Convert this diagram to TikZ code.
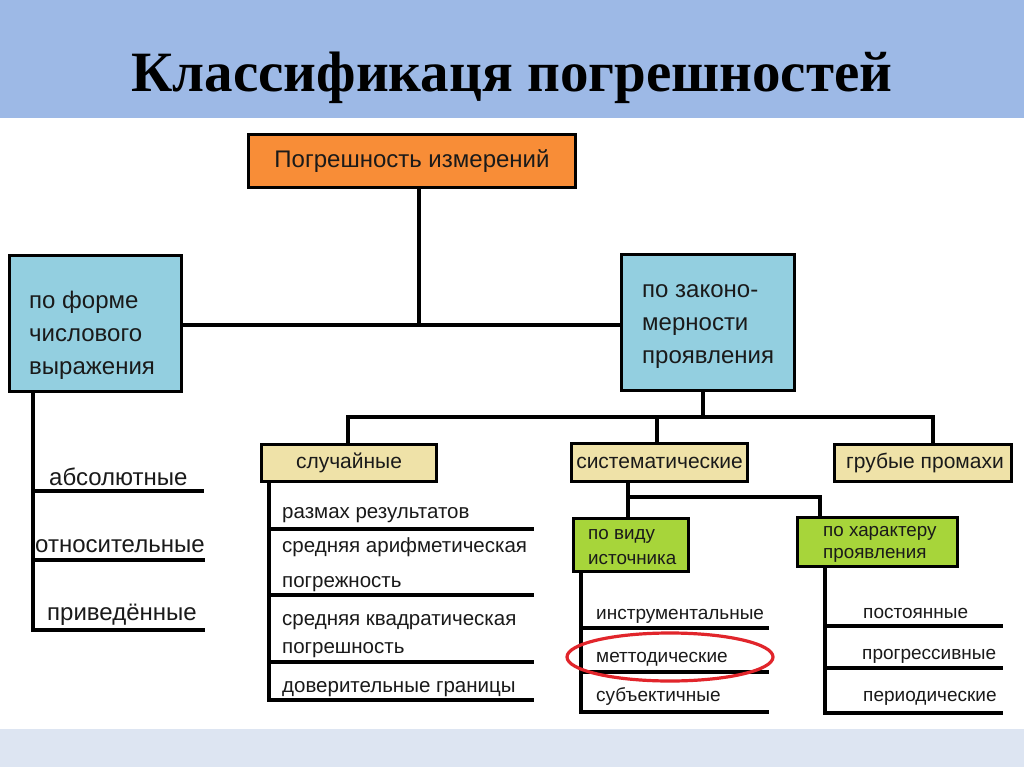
\documentclass[tikz,border=0pt]{standalone}
\usepackage{fontspec}
\setmainfont{Liberation Sans}
\newfontfamily\titlefont{Liberation Serif}
\usetikzlibrary{calc}
\definecolor{headblue}{HTML}{9DB9E6}
\definecolor{footblue}{HTML}{DDE5F2}
\definecolor{orangebox}{HTML}{F88D37}
\definecolor{bluebox}{HTML}{93CFE0}
\definecolor{tanbox}{HTML}{EFE2A8}
\definecolor{greenbox}{HTML}{A7D53A}
\definecolor{ink}{HTML}{1A1A1A}
\definecolor{ringred}{HTML}{E1252B}
\newcommand\fsTitle{\titlefont\bfseries\fontsize{57}{60}\selectfont}
\newcommand\fsTop{\fontsize{24}{28}\selectfont}
\newcommand\fsBig{\fontsize{24}{33}\selectfont}
\newcommand\fsTan{\fontsize{21}{25}\selectfont}
\newcommand\fsList{\fontsize{20.5}{25}\selectfont}
\newcommand\fsGreen{\fontsize{18.8}{25}\selectfont}
\newcommand\fsSmall{\fontsize{19}{23}\selectfont}
\begin{document}
\begin{tikzpicture}[x=1pt,y=-1pt,
  conn/.style={line width=3.2pt, draw=black},
  boxbase/.style={draw=black, line width=3.8pt, inner sep=0pt, rectangle, text=ink},
  lab/.style={inner sep=0pt, text=ink, anchor=base west},
  ringstyle/.style={draw=ringred, line width=3.2pt}]
\useasboundingbox (0,0) rectangle (1024,767);
% bands
\fill[white] (0,0) rectangle (1024,767);
\fill[headblue] (0,0) rectangle (1024,118);
\fill[footblue] (0,729) rectangle (1024,767);
% title
\node[anchor=base, inner sep=0pt, text=black] (title) at (512,92) {\fsTitle Классификаця погрешностей};
% top box
\node[boxbase, fill=orangebox, minimum width=327, minimum height=53] (top) at (412,161) {\fsTop Погрешность измерений};
% level 1
\node[boxbase, fill=bluebox, minimum width=172, minimum height=136] (lbox) at (95.5,323.5) {};
\node[inner sep=0pt, align=left, anchor=west, text=ink, font=\fsBig] (ltext) at (29,335) {по форме\\числового\\выражения};
\node[boxbase, fill=bluebox, minimum width=173, minimum height=136] (rbox) at (708,322.5) {};
\node[inner sep=0pt, align=left, anchor=west, text=ink, font=\fsBig] (rtext) at (642,327) {по законо-\\мерности\\проявления};
\coordinate (j1) at (419,325);
\draw[conn] (top.south -| j1) -- (j1);
\draw[conn] (lbox.east |- j1) -- (rbox.west |- j1);
% level 2
\node[boxbase, fill=tanbox, minimum width=175, minimum height=37] (sl) at (349,463) {\fsTan случайные};
\node[boxbase, fill=tanbox, minimum width=176, minimum height=38] (sys) at (659.5,462.5) {\fsTan систематические};
\node[boxbase, fill=tanbox, minimum width=177, minimum height=37] (gr) at (923,463) {\fsTan\hspace{4pt}грубые промахи};
\coordinate (b0) at (703,417);
\coordinate (bl) at (348,417);
\coordinate (bm) at (657,417);
\coordinate (br) at (933,417);
\draw[conn] (rbox.south -| b0) -- (b0);
\draw[conn] (bl |- sl.north) -- (bl) -- (br) -- (br |- gr.north);
\draw[conn] (bm) -- (bm |- sys.north);
% level 3 green
\node[boxbase, fill=greenbox, minimum width=115, minimum height=53] (g1) at (631,545) {};
\node[inner sep=0pt, align=left, anchor=west, text=ink, font=\fsGreen] (g1t) at (588,547) {по виду\\источника};
\node[boxbase, fill=greenbox, minimum width=160, minimum height=49] (g2) at (877.5,542) {};
\node[inner sep=0pt, align=left, anchor=west, text=ink, font=\fontsize{18.8}{22}\selectfont] (g2t) at (823,544) {по характеру\\проявления};
\coordinate (s1) at (628,497);
\coordinate (s2) at (820,497);
\draw[conn] (sys.south -| s1) -- (g1.north -| s1);
\draw[conn] (s1) -- (s2) -- (s2 |- g2.north);
% left list
\coordinate (lv) at (33,630);
\draw[conn] (lbox.south -| lv) -- (lv) -- (205,630);
\draw[conn] (33,491) -- (204,491);
\draw[conn] (33,560) -- (205,560);
\node[lab, font=\fsBig] (la) at (49,485) {абсолютные};
\node[lab, font=\fsBig] (lb) at (35,552) {относительные};
\node[lab, font=\fsBig] (lc) at (47,620) {приведённые};
% random list
\coordinate (sv) at (269,700);
\draw[conn] (sl.south -| sv) -- (sv) -- (534,700);
\draw[conn] (269,529) -- (534,529);
\draw[conn] (269,595) -- (534,595);
\draw[conn] (269,662) -- (534,662);
\node[lab, font=\fsList] (r1) at (282,518) {размах результатов};
\node[lab, font=\fsList] (r2) at (282,552) {средняя арифметическая};
\node[lab, font=\fsList] (r3) at (282,587) {погрежность};
\node[lab, font=\fsList] (r4) at (282,625) {средняя квадратическая};
\node[lab, font=\fsList] (r5) at (282,653) {погрешность};
\node[lab, font=\fsList] (r6) at (282,692) {доверительные границы};
% source list
\coordinate (gv1) at (581,712);
\draw[conn] (g1.south -| gv1) -- (gv1) -- (769,712);
\draw[conn] (581,628) -- (769,628);
\draw[conn] (581,672) -- (769,672);
\node[lab, font=\fsSmall] (i1) at (596,619) {инструментальные};
\node[lab, font=\fsSmall] (i2) at (596,662) {меттодические};
\node[lab, font=\fsSmall] (i3) at (596,701) {субъектичные};
% character list
\coordinate (gv2) at (825,713);
\draw[conn] (g2.south -| gv2) -- (gv2) -- (1003,713);
\draw[conn] (825,626) -- (1003,626);
\draw[conn] (825,668) -- (1003,668);
\node[lab, font=\fsSmall] (c1) at (863,618) {постоянные};
\node[lab, font=\fsSmall] (c2) at (862,659) {прогрессивные};
\node[lab, font=\fsSmall] (c3) at (863,701) {периодические};
% red ring
\draw[ringstyle] (670,657) ellipse [x radius=103pt, y radius=24pt];
\end{tikzpicture}
\end{document}
